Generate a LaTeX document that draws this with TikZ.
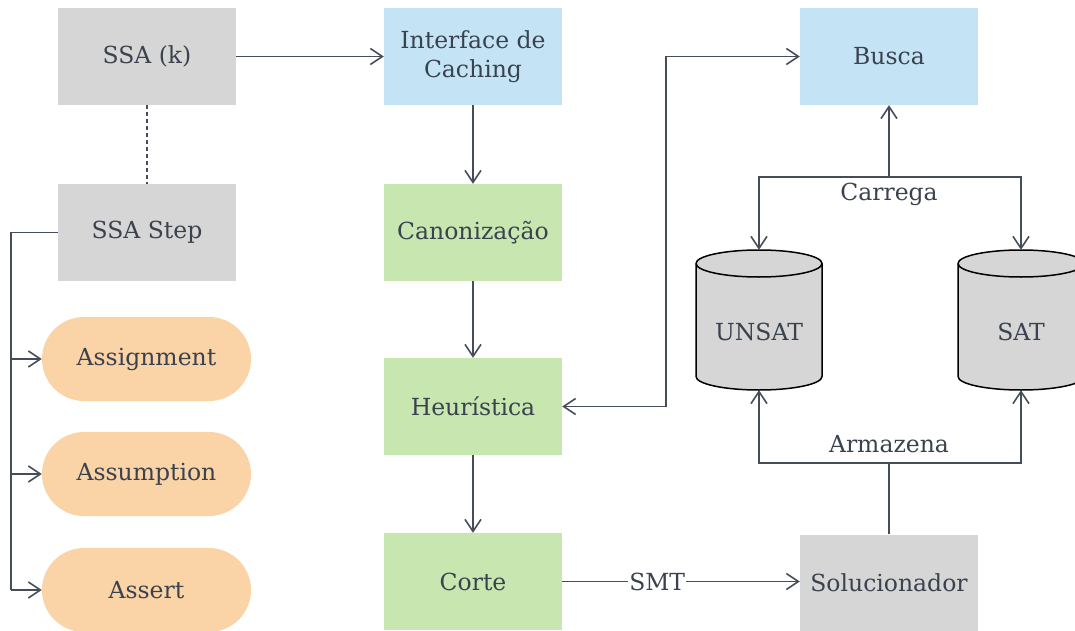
\documentclass[tikz,border=0pt]{standalone}
\usepackage{fontspec}
\setmainfont{DejaVu Serif}
\usetikzlibrary{arrows.meta}
\definecolor{ink}{HTML}{3A424E}
\definecolor{wire}{HTML}{454D59}
\definecolor{boxgray}{HTML}{D6D6D6}
\definecolor{boxblue}{HTML}{C4E4F6}
\definecolor{boxgreen}{HTML}{C8E7B0}
\definecolor{boxorange}{HTML}{FAD3A7}
\tikzset{
  every node/.style={font=\fontsize{23.5}{28.5}\selectfont, text=ink},
  block/.style={rectangle, minimum width=178pt, minimum height=97pt, inner sep=0pt, align=center},
  graybox/.style={block, fill=boxgray},
  bluebox/.style={block, fill=boxblue},
  greenbox/.style={block, fill=boxgreen},
  pill/.style={rectangle, rounded corners=42pt, fill=boxorange, minimum width=209pt, minimum height=84pt, inner sep=0pt},
  dbanchor/.style={rectangle, minimum width=126pt, minimum height=140pt, inner sep=0pt},
  dbbody/.style={fill=boxgray, draw=black, line width=1.5pt},
  link/.style={draw=wire, line width=1.6pt},
  arr/.style={link, -{Straight Barb[length=12pt, width=16pt, line width=1.6pt]}},
  biarr/.style={link, {Straight Barb[length=12pt, width=16pt, line width=1.6pt]}-{Straight Barb[length=12pt, width=16pt, line width=1.6pt]}},
  tag/.style={inner sep=2pt}
}
\begin{document}
\begin{tikzpicture}[x=1pt, y=-1pt]
\useasboundingbox (0,0) rectangle (1075,631);

% left column
\node[graybox] (ssak) at (147,56.5) {SSA (k)};
\node[graybox] (step) at (147,232.5) {SSA Step};
\node[pill] (assign) at (146.5,359) {Assignment};
\node[pill] (assume) at (146.5,474) {Assumption};
\node[pill] (assert) at (146.5,590) {Assert};

% middle column
\node[bluebox] (cache) at (473,56.5) {Interface de\\Caching};
\node[greenbox] (canon) at (473,232.5) {Canonização};
\node[greenbox] (heur) at (473,406.5) {Heurística};
\node[greenbox] (corte) at (473,581.5) {Corte};

% right column
\node[bluebox] (busca) at (889,56.5) {Busca};
\node[graybox] (solver) at (889,583) {Solucionador};

% databases
\node[dbanchor] (unsat) at (759,320) {};
\node[dbanchor] (sat) at (1021,320) {};
\foreach \cx in {759,1021}{
  \path[dbbody] (\cx-63,263.5) -- (\cx-63,376.5)
    arc[start angle=180, end angle=0, x radius=63, y radius=13.5]
    -- (\cx+63,263.5)
    arc[start angle=0, end angle=-180, x radius=63, y radius=13.5] -- cycle;
  \draw[draw=black, line width=1.5pt] (\cx-63,263.5)
    arc[start angle=180, end angle=0, x radius=63, y radius=13.5];
}
\node at (759,332) {UNSAT};
\node at (1021,332) {SAT};

% connectors
\draw[link, dash pattern=on 4pt off 3pt] (ssak.south) -- (step.north);
\draw[arr] (ssak.east) -- (cache.west);
\draw[arr] (cache.south) -- (canon.north);
\draw[arr] (canon.south) -- (heur.north);
\draw[arr] (heur.south) -- (corte.north);

\coordinate (bus) at (11,232.5);
\draw[link] (step.west) -- (bus) -- (11,590);
\draw[arr] (11,359) -- (assign.west);
\draw[arr] (11,474) -- (assume.west);
\draw[arr] (11,590) -- (assert.west);

\draw[biarr] (heur.east) -- (666,406.5) |- (busca.west);

\coordinate (load) at (889,177);
\draw[arr] (load) -- (busca.south);
\draw[arr] (load) -| (unsat.north);
\draw[arr] (load) -| (sat.north);
\node[tag] at (889,194) {Carrega};

\coordinate (store) at (889,463);
\draw[link] (solver.north) -- (store);
\draw[arr] (store) -| (unsat.south);
\draw[arr] (store) -| (sat.south);
\node[tag] at (889,444) {Armazena};

\draw[arr] (corte.east) -- node[pos=0.4, tag, fill=white, inner sep=1pt] {SMT} (solver.west |- corte.east);
\end{tikzpicture}
\end{document}
